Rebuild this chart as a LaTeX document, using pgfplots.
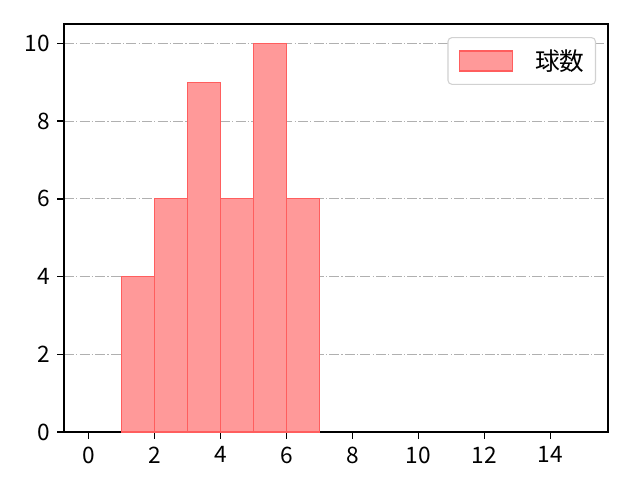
\documentclass[border=0pt]{standalone}
\usepackage{pgfplots}
\pgfplotsset{compat=1.18}
\usepackage{fontspec}
\setmainfont{Noto Sans CJK JP}
\definecolor{barfill}{HTML}{FF9999}
\definecolor{baredge}{HTML}{FF5E5E}
\definecolor{gridgray}{HTML}{B0B0B0}

\begin{document}
\begin{tikzpicture}[x=1pt,y=1pt]
  \useasboundingbox (0,0) rectangle (480,360);
  \begin{axis}[
    at={(48pt,36pt)}, anchor=south west,
    scale only axis,
    width=408pt, height=306pt,
    xmin=-0.75, xmax=15.75,
    ymin=0, ymax=10.5,
    xtick={0,2,...,14},
    ytick={0,2,...,10},
    xtick pos=bottom, ytick pos=left,
    tick align=outside,
    major tick length=5pt,
    tick style={black, line width=1pt},
    axis line style={line width=1pt},
    ymajorgrids,
    grid style={gridgray, dash pattern=on 7.5pt off 1.6pt on 1pt off 1.6pt, line width=0.9pt},
    ticklabel style={font=\fontsize{17}{19}\selectfont},
    xticklabel style={yshift=-2.5pt},
    yticklabel style={xshift=-2pt},
    /pgf/number format/assume math mode=true,
    legend style={at={(0.978,0.968)}, anchor=north east,
      draw=black!18, rounded corners=3pt, line width=0.8pt,
      font=\fontsize{18.5}{20}\selectfont,
      nodes={inner sep=0pt},
      inner xsep=8.25pt, inner ysep=9pt},
    legend cell align=left,
    legend image code/.code={
      \draw[sharp corners, fill=barfill, draw=baredge, line width=0.9pt]
        (0pt,-7.5pt) rectangle (39.75pt,7.5pt);},
  ]
    \addplot[ybar, bar width=1, bar shift=0, fill=barfill, draw=baredge, line width=0.9pt]
      coordinates {(1.5,4) (2.5,6) (3.5,9) (4.5,6) (5.5,10) (6.5,6)};
    \addlegendentry{\hspace{16.5pt}球数\hspace{1.5pt}}
  \end{axis}
\end{tikzpicture}
\end{document}
